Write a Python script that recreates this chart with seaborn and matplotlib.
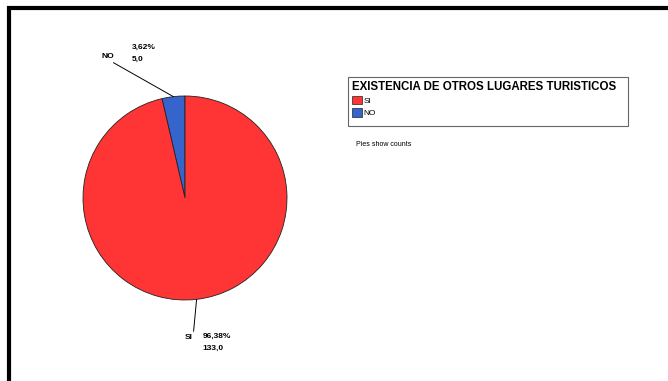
import numpy as np
import matplotlib
matplotlib.use("Agg")
import matplotlib.pyplot as plt
from matplotlib.patches import Patch, Rectangle
from matplotlib.lines import Line2D
import seaborn as sns

# ---- data ----
categories = ["SI", "NO"]
counts = [133.0, 5.0]
percents = ["96,38%", "3,62%"]
count_labels = ["133,0", "5,0"]
legend_title = "EXISTENCIA DE OTROS LUGARES TURISTICOS"
note_text = "Pies show counts"
colors = {"SI": "#FF3434", "NO": "#3464CC"}

sns.set_theme(style="white")
plt.rcParams["font.family"] = ["Liberation Sans", "DejaVu Sans"]
plt.rcParams["text.color"] = "black"

W, H = 668, 381
fig = plt.figure(figsize=(W / 100, H / 100), dpi=100)
fig.patch.set_facecolor("white")

# pie axes: center (185,198) px, radius ~102 px
cx, cy, r = 185, 198, 102
ax = fig.add_axes([(cx - r) / W, 1 - (cy + r) / H, 2 * r / W, 2 * r / H])

# draw NO first from 12 o'clock counterclockwise, then SI
order = ["NO", "SI"]
vals = [counts[categories.index(c)] for c in order]
wedges, _ = ax.pie(vals, startangle=90, counterclock=True, radius=1.0,
                   colors=[colors[c] for c in order],
                   wedgeprops=dict(edgecolor="#222222", linewidth=0.6))
ax.set_xlim(-1, 1)
ax.set_ylim(-1, 1)
ax.set_aspect("equal")
ax.axis("off")

lbl_kw = dict(fontsize=6, fontweight="bold", color="black")
px = 1 / r  # one pixel in data units
for w, cat in zip(wedges, order):
    mid = np.deg2rad((w.theta1 + w.theta2) / 2)
    x0, y0 = np.cos(mid), np.sin(mid)
    i = categories.index(cat)
    if cat == "NO":
        x1, y1 = x0 - 60 * px, y0 + 34 * px
        ax.plot([x0, x1], [y0, y1], color="black", lw=0.7, clip_on=False)
        ax.text(x1 + 1 * px, y1 + 6 * px, cat, ha="right", va="center",
                clip_on=False, **lbl_kw)
        ax.text(x1 + 18 * px, y1 + 15 * px, percents[i], ha="left",
                va="center", clip_on=False, **lbl_kw)
        ax.text(x1 + 18 * px, y1 + 3 * px, count_labels[i], ha="left",
                va="center", clip_on=False, **lbl_kw)
    else:
        x1, y1 = x0 - 3 * px, y0 - 32 * px
        ax.plot([x0, x1], [y0, y1], color="black", lw=0.7, clip_on=False)
        ax.text(x1 - 1 * px, y1 - 6 * px, cat, ha="right", va="center",
                clip_on=False, **lbl_kw)
        ax.text(x1 + 9 * px, y1 - 5 * px, percents[i], ha="left",
                va="center", clip_on=False, **lbl_kw)
        ax.text(x1 + 9 * px, y1 - 17 * px, count_labels[i], ha="left",
                va="center", clip_on=False, **lbl_kw)

# legend
handles = [Patch(facecolor=colors[c], edgecolor="#222222", linewidth=0.5)
           for c in categories]
leg = fig.legend(handles, categories, title=legend_title,
                 loc="upper left", bbox_to_anchor=(350 / W, 1 - 79 / H),
                 fontsize=6, title_fontproperties=dict(size=8.3, weight="bold"),
                 frameon=False, borderpad=0.2,
                 handlelength=1.25, handleheight=1.25, handletextpad=0.2,
                 labelspacing=0.35, alignment="left", borderaxespad=0)
leg.get_title().set_color("black")
for t in leg.get_texts():
    t.set_color("black")
fig.add_artist(Rectangle((348 / W, 1 - 126 / H), 280 / W, 49 / H,
                         transform=fig.transFigure, fill=False,
                         edgecolor="#666666", linewidth=0.8))

fig.text(356 / W, 1 - 144 / H, note_text, fontsize=5, ha="left", va="center")

# partial frame (top and left black border)
fig.add_artist(Line2D([7 / W, 1], [1 - 8 / H, 1 - 8 / H], color="black",
                      lw=3, transform=fig.transFigure, solid_capstyle="butt"))
fig.add_artist(Line2D([9 / W, 9 / W], [1 - 6 / H, 0], color="black",
                      lw=3, transform=fig.transFigure, solid_capstyle="butt"))

fig.savefig("out.png", dpi=100)
